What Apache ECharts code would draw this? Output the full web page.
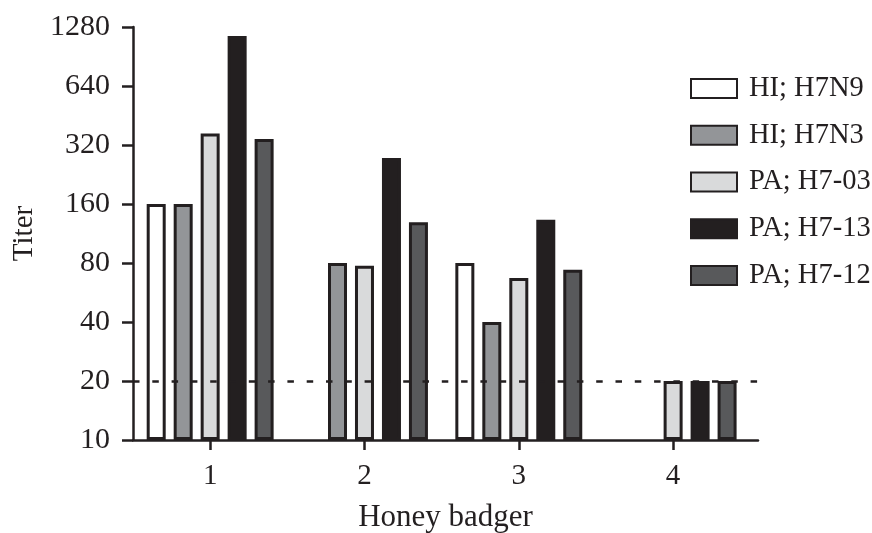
<!DOCTYPE html>
<html>
<head>
<meta charset="utf-8">
<script src="https://cdn.jsdelivr.net/npm/echarts@6/dist/echarts.min.js"></script>
<style>
  html, body { margin: 0; padding: 0; background: #ffffff; }
  #chart { width: 872px; height: 533px; }
</style>
</head>
<body>
<div id="chart"></div>
<script>
// ---- data ----
const categories = [1, 2, 3, 4];
const seriesNames = ['HI; H7N9', 'HI; H7N3', 'PA; H7-03', 'PA; H7-13', 'PA; H7-12'];
const hiH7N9  = [160, null, 80, null];
const hiH7N3  = [160, 80, 40, null];
const paH703  = [366, 77.5, 67, 20];
const paH713  = [1152, 275, 133, 20];
const paH712  = [343, 129, 74, 20];
const yTickLabels = [10, 20, 40, 80, 160, 320, 640, 1280];
const threshold = 20;

const seriesValues = [hiH7N9, hiH7N3, paH703, paH713, paH712];
const colors = ['#ffffff', '#939598', '#d9dadb', '#231f20', '#58595b'];
const ink = '#231f20';
const font = 'Liberation Serif';
const base = yTickLabels[0];
const toLog = v => Math.log2(v / base);

const series = seriesValues.map((vals, i) => {
  const s = {
    name: seriesNames[i],
    type: 'bar',
    barWidth: 19,
    barGap: '42%',
    itemStyle: { color: colors[i], borderColor: ink, borderWidth: 3 },
    emphasis: { disabled: true },
    data: vals.map((v, j) => [categories[j], v == null ? null : toLog(v)])
  };
  if (i === 0) {
    s.markLine = {
      silent: true,
      symbol: ['none', 'none'],
      z: 10,
      label: { show: false },
      lineStyle: { color: ink, width: 2.5, type: [6.5, 12.8] },
      data: [{ yAxis: toLog(threshold) }]
    };
  }
  return s;
});

const chart = echarts.init(document.getElementById('chart'), null, { renderer: 'canvas' });
chart.setOption({
  animation: false,
  backgroundColor: '#ffffff',
  grid: { left: 133, right: 114, top: 27, bottom: 93, containLabel: false, outerBoundsMode: 'none' },
  legend: {
    orient: 'vertical',
    left: 685,
    top: 69,
    itemWidth: 46,
    itemHeight: 19,
    itemGap: 17.75,
    icon: 'rect',
    textStyle: { fontFamily: font, fontSize: 28.5, color: ink, padding: [0, 0, 0, 7] },
    data: seriesNames
  },
  xAxis: {
    type: 'value',
    min: 0.5,
    max: 4.55,
    name: 'Honey badger',
    nameLocation: 'middle',
    nameGap: 62,
    nameMoveOverlap: false,
    nameTextStyle: { fontFamily: font, fontSize: 31, color: ink, verticalAlign: 'top' },
    axisLine: { show: true, lineStyle: { color: ink, width: 2.5 } },
    axisTick: { show: true, length: 10, lineStyle: { color: ink, width: 2.5 }, customValues: categories },
    axisLabel: { fontFamily: font, fontSize: 29, color: ink, margin: 22, customValues: categories },
    splitLine: { show: false }
  },
  yAxis: {
    type: 'value',
    min: 0,
    max: yTickLabels.length - 1,
    interval: 1,
    name: 'Titer',
    nameLocation: 'middle',
    nameGap: 94,
    nameMoveOverlap: false,
    nameTextStyle: { fontFamily: font, fontSize: 29, color: ink },
    axisLine: { show: true, lineStyle: { color: ink, width: 2.5 } },
    axisTick: { show: true, length: 11, lineStyle: { color: ink, width: 2.5 } },
    axisLabel: {
      fontFamily: font, fontSize: 30, color: ink, margin: 23,
      formatter: v => String(yTickLabels[Math.round(v)])
    },
    splitLine: { show: false }
  },
  series: series
});
</script>
</body>
</html>
